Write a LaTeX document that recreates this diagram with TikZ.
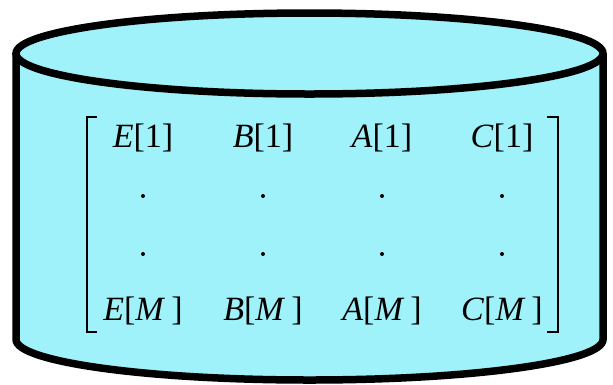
\documentclass[tikz,border=0pt]{standalone}
\usepackage{fontspec}
\setmainfont{Liberation Serif}
\definecolor{dbcyan}{RGB}{160, 242, 250}
\tikzset{
	dbwall/.style={draw=black, fill=dbcyan, line width=7.5pt},
	entry/.style={anchor=base, inner sep=0pt, font=\fontsize{34}{40}\selectfont},
	brk/.style={draw=black, line width=1.8pt},
	vdot/.style={circle, fill=black, inner sep=0pt, minimum size=4pt},
}

\begin{document}
\begin{tikzpicture}[x=1pt, y=-1pt]
	\useasboundingbox (0,0) rectangle (613,384);
	% cylinder body and lid
	\path[dbwall] (16,53.5) -- (16,339.5) arc[start angle=180, end angle=0, x radius=293.5, y radius=40.5] -- (603,53.5);
	\path[dbwall] (309.5,53.5) ellipse[x radius=293.5, y radius=40.5];
	% matrix entries
	\foreach \col/\x in {E/143, B/263, A/382, C/502} {
		\node[entry] (\col1) at (\x,147) {\textit{\col}[1]};
		\node[vdot] (\col d1) at (\x,196) {};
		\node[vdot] (\col d2) at (\x,254) {};
		\node[entry] (\col M) at (\x,320) {\textit{\col}[\textit{M}\hspace{6pt}]};
	}
	% brackets
	\draw[brk] (97,117) -- (87,117) -- (87,332) -- (97,332);
	\draw[brk] (547,117) -- (558,117) -- (558,332) -- (547,332);
\end{tikzpicture}
\end{document}
